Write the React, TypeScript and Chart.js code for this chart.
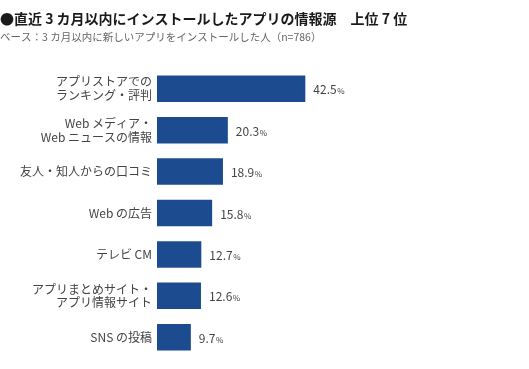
import React, { useEffect, useRef } from "react";
import { Chart, registerables } from "chart.js";

Chart.register(...registerables);

const titleText = "●直近 3 カ月以内にインストールしたアプリの情報源　上位 7 位";
const subtitleText = "ベース：3 カ月以内に新しいアプリをインストールした人（n=786）";

const categories: (string | string[])[] = [
  ["アプリストアでの", "ランキング・評判"],
  ["Web メディア・", "Web ニュースの情報"],
  "友人・知人からの口コミ",
  "Web の広告",
  "テレビ CM",
  ["アプリまとめサイト・", "アプリ情報サイト"],
  "SNS の投稿",
];
const values = [42.5, 20.3, 18.9, 15.8, 12.7, 12.6, 9.7];

const FONT = "'Noto Sans CJK JP', 'Noto Sans', sans-serif";

const overlayPlugin = {
  id: "overlay",
  afterDraw(chart: any) {
    const ctx = chart.ctx;
    ctx.save();
    ctx.textBaseline = "middle";
    ctx.textAlign = "left";
    ctx.fillStyle = "#1a1a1a";
    ctx.font = `bold 14px ${FONT}`;
    ctx.fillText(titleText, 0, 19);
    ctx.fillStyle = "#666";
    ctx.font = `10.5px ${FONT}`;
    ctx.fillText(subtitleText, 0, 37);

    const meta = chart.getDatasetMeta(0);
    meta.data.forEach((bar: any, i: number) => {
      const v = values[i].toFixed(1);
      const x = bar.x + 8;
      const y = bar.y + 1;
      ctx.fillStyle = "#444";
      ctx.font = `12px ${FONT}`;
      ctx.fillText(v, x, y);
      const w = ctx.measureText(v).width;
      ctx.font = `8px ${FONT}`;
      ctx.fillText("%", x + w + 0.5, y + 1.5);
    });
    ctx.restore();
  },
};

export default function App() {
  const ref = useRef<HTMLCanvasElement | null>(null);
  useEffect(() => {
    document.body.style.margin = "0";
    const chart = new Chart(ref.current as HTMLCanvasElement, {
      type: "bar",
      data: {
        labels: categories,
        datasets: [
          {
            data: values,
            backgroundColor: "#1c4c8f",
            borderWidth: 0,
            barPercentage: 0.8,
            categoryPercentage: 0.8,
          },
        ],
      },
      options: {
        indexAxis: "y",
        animation: false,
        responsive: false,
        layout: { padding: { top: 68, bottom: 11, left: 0, right: 197.5 } },
        plugins: {
          legend: { display: false },
          tooltip: { enabled: false },
          title: { display: false },
        },
        scales: {
          x: { display: false, min: 0, max: 50 },
          y: {
            afterFit(scale: any) {
              scale.width = 157;
              scale.paddingTop = 0;
              scale.paddingBottom = 0;
            },
            grid: { display: false, drawTicks: false },
            border: { display: false },
            ticks: {
              color: "#444",
              padding: 5,
              font: { family: FONT, size: 12, lineHeight: 1.15 },
            },
          },
        },
      },
      plugins: [overlayPlugin],
    } as any);
    return () => chart.destroy();
  }, []);
  return <canvas ref={ref} width={529} height={369} style={{ display: "block" }} />;
}
